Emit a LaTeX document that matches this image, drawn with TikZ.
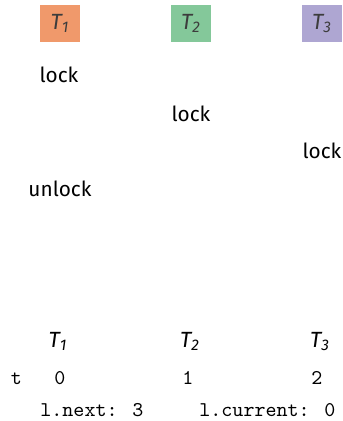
\documentclass[tikz,border=0pt]{standalone}
\usepackage{fontspec}
\setmainfont{Fira Sans}
\usepackage{xcolor}
\usetikzlibrary{positioning}
\definecolor{threadA}{RGB}{240, 153, 107}
\definecolor{threadB}{RGB}{132, 200, 154}
\definecolor{threadC}{RGB}{174, 166, 210}
\definecolor{boxtext}{RGB}{60, 60, 60}
\newcommand{\thr}[1]{{\itshape T\textsubscript{#1}}}

\begin{document}
\begin{tikzpicture}[
    x=0.5pt, y=-0.5pt,
    thread/.style={rectangle, minimum width=20pt, minimum height=18.5pt, inner sep=0pt, text=boxtext, font=\fontsize{11}{13}\selectfont},
    op/.style={anchor=base, inner sep=0pt, font=\fontsize{10.4}{12}\selectfont},
    lbl/.style={anchor=base, inner sep=0pt, font=\fontsize{11}{13}\selectfont},
    val/.style={anchor=base, inner sep=0pt, font=\fontsize{10.5}{12}\ttfamily}
  ]
  \useasboundingbox (0, 0) rectangle (342, 421);

  % thread boxes
  \node[thread, fill=threadA] (t1box) at (60, 23.5) {\thr{1}};
  \node[thread, fill=threadB] (t2box) at (191, 23.5) {\thr{2}};
  \node[thread, fill=threadC] (t3box) at (322, 23.5) {\thr{3}};

  % operations
  \node[op] (lockA) at (59, 83) {lock};
  \node[op] (lockB) at (191, 122) {lock};
  \node[op] (lockC) at (322, 159) {lock};
  \node[op] (unlockA) at (60, 197) {unlock};

  % ticket state
  \node[lbl] (ta) at (58, 347) {\thr{1}};
  \node[lbl] (tb) at (190, 347) {\thr{2}};
  \node[lbl] (tc) at (320, 347) {\thr{3}};
  \node[val] (tlabel) at (16.5, 384) {t};
  \node[val] (va) at (60, 384) {0};
  \node[val] (vb) at (188, 384) {1};
  \node[val] (vc) at (317, 384) {2};
  \node[val, anchor=base west] (next) at (40, 416) {l.next: 3};
  \node[val, anchor=base west] (curr) at (199, 416) {l.current: 0};

\end{tikzpicture}
\end{document}
